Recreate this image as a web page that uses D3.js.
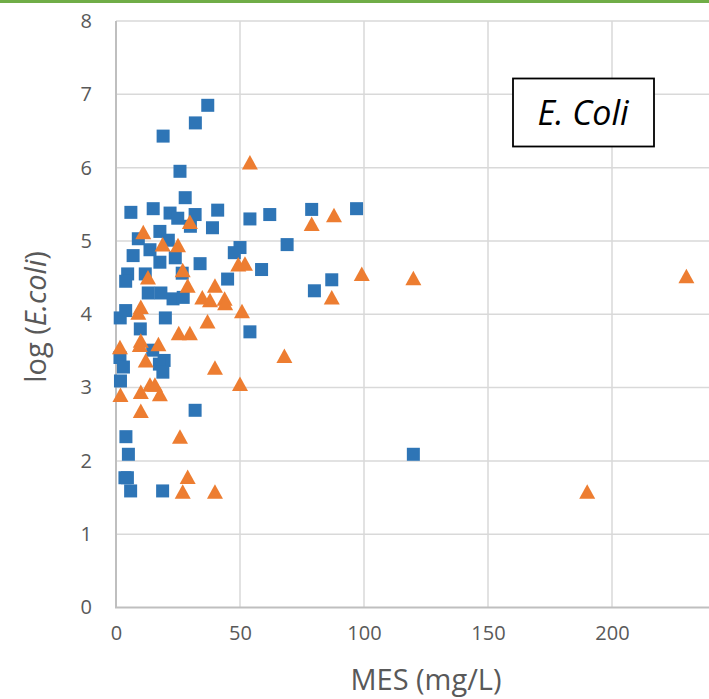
<!DOCTYPE html>
<html>
<head>
<meta charset="utf-8">
<script src="https://cdn.jsdelivr.net/npm/d3@7"></script>
<style>
  body { margin: 0; background: #fff; }
  svg { display: block; font-family: "Open Sans", sans-serif; }
  .tick text { fill: #595959; font-size: 20px; font-family: "Open Sans", sans-serif; }
</style>
</head>
<body>
<div id="chart"></div>
<script>
// MES (mg/L) and log(E.coli)
var squareMES = [37.0, 32.0, 19.0, 25.8, 27.9, 6.0, 15.0, 21.8, 24.9, 31.9, 41.0, 30.0, 38.9, 54.0, 62.0, 78.9, 97.0,
  17.7, 9.0, 21.1, 13.7, 6.9, 17.7, 23.9, 50.0, 47.7, 69.0, 33.9, 58.7,
  4.7, 3.9, 11.8, 26.7, 45.0, 87.0, 80.0, 13.0, 18.1, 23.0, 27.1,
  3.9, 1.7, 19.9, 9.8, 54.0, 14.8, 1.6, 19.4, 17.5, 3.0, 18.9, 1.8,
  31.9, 4.0, 5.0, 3.6, 4.6, 5.9, 18.8, 119.9];
var squareLog = [6.85, 6.61, 6.43, 5.95, 5.59, 5.39, 5.44, 5.38, 5.31, 5.36, 5.42, 5.20, 5.18, 5.30, 5.36, 5.43, 5.44,
  5.13, 5.03, 5.01, 4.88, 4.80, 4.71, 4.77, 4.91, 4.84, 4.95, 4.69, 4.61,
  4.55, 4.45, 4.55, 4.56, 4.48, 4.47, 4.32, 4.29, 4.29, 4.21, 4.23,
  4.05, 3.95, 3.95, 3.80, 3.76, 3.51, 3.41, 3.37, 3.32, 3.28, 3.21, 3.09,
  2.69, 2.33, 2.09, 1.77, 1.77, 1.59, 1.59, 2.09];

var triMES = [54.0, 29.8, 11.0, 18.8, 25.0, 78.9, 87.9,
  49.3, 52.0, 26.9, 12.9, 28.9, 39.9, 34.8, 37.9, 43.8, 44.0, 99.1, 119.9, 230.0, 87.0,
  10.0, 9.0, 50.8, 36.9, 25.3, 29.8, 10.0, 9.6, 1.6, 17.1, 12.0, 67.9, 39.9,
  13.7, 15.7, 50.0, 10.0, 17.7, 1.8, 10.0, 25.8, 28.9, 26.9, 39.9, 190.0];
var triLog = [6.07, 5.26, 5.12, 4.95, 4.94, 5.23, 5.35,
  4.68, 4.69, 4.60, 4.50, 4.39, 4.39, 4.23, 4.19, 4.21, 4.15, 4.55, 4.49, 4.52, 4.23,
  4.10, 4.02, 4.04, 3.90, 3.74, 3.74, 3.64, 3.58, 3.55, 3.59, 3.37, 3.43, 3.27,
  3.04, 3.04, 3.05, 2.94, 2.91, 2.90, 2.68, 2.33, 1.78, 1.58, 1.58, 1.58];

var xTicks = [0, 50, 100, 150, 200, 250];
var yTicks = [0, 1, 2, 3, 4, 5, 6, 7, 8];

var W = 709, H = 699;
var margin = {top: 21, left: 116, bottom: 92};
var blue = "#2e75b6", orange = "#ed7d31";

var svg = d3.select("#chart").append("svg")
    .attr("width", W)
    .attr("height", H);

svg.append("rect")
    .attr("x", 0).attr("y", 0)
    .attr("width", W).attr("height", 3)
    .attr("fill", "#70ad47");

var x = d3.scaleLinear().domain([0, 250]).range([margin.left, margin.left + 620]);
var y = d3.scaleLinear().domain([0, 8]).range([H - margin.bottom + 0.5, margin.top]);

// gridlines
svg.append("g").selectAll("line")
    .data(yTicks.slice(1))
    .enter().append("line")
    .attr("x1", margin.left).attr("x2", W)
    .attr("y1", d => y(d)).attr("y2", d => y(d))
    .attr("stroke", "#d9d9d9").attr("stroke-width", 1.5);

svg.append("g").selectAll("line")
    .data(xTicks.slice(1))
    .enter().append("line")
    .attr("x1", d => x(d)).attr("x2", d => x(d))
    .attr("y1", y(8)).attr("y2", y(0))
    .attr("stroke", "#d9d9d9").attr("stroke-width", 1.5);

// axes
var xAxis = svg.append("g")
    .attr("transform", "translate(0," + y(0) + ")")
    .call(d3.axisBottom(x).tickValues(xTicks.slice(0, 5)).tickSize(0).tickPadding(18));
xAxis.select(".domain").remove();

var yAxis = svg.append("g")
    .attr("transform", "translate(" + x(0) + ",0)")
    .call(d3.axisLeft(y).tickValues(yTicks).tickSize(0).tickPadding(24));
yAxis.select(".domain").remove();

svg.append("line")
    .attr("x1", x(0)).attr("x2", x(0))
    .attr("y1", y(8)).attr("y2", y(0))
    .attr("stroke", "#bfbfbf").attr("stroke-width", 2);
svg.append("line")
    .attr("x1", x(0) - 1).attr("x2", W)
    .attr("y1", y(0)).attr("y2", y(0))
    .attr("stroke", "#bfbfbf").attr("stroke-width", 2);

// squares
var sq = 13;
svg.append("g").selectAll("rect")
    .data(squareMES)
    .enter().append("rect")
    .attr("x", (d, i) => x(d) - sq / 2)
    .attr("y", (d, i) => y(squareLog[i]) - sq / 2)
    .attr("width", sq).attr("height", sq)
    .attr("fill", blue);

// triangles
svg.append("g").selectAll("path")
    .data(triMES)
    .enter().append("path")
    .attr("d", "M0,-7.5L8,7L-8,7Z")
    .attr("transform", (d, i) => "translate(" + x(d) + "," + y(triLog[i]) + ")")
    .attr("fill", orange);

// label box
svg.append("rect")
    .attr("x", 513).attr("y", 78.5)
    .attr("width", 141).attr("height", 68)
    .attr("fill", "#fff")
    .attr("stroke", "#000").attr("stroke-width", 1.8);
svg.append("text")
    .attr("x", 583).attr("y", 125)
    .attr("text-anchor", "middle")
    .style("font-size", "34px").style("font-style", "italic")
    .attr("fill", "#000")
    .text("E. Coli");

// axis titles
svg.append("text")
    .attr("x", 426).attr("y", 690)
    .attr("text-anchor", "middle")
    .style("font-size", "29px")
    .attr("fill", "#595959")
    .text("MES (mg/L)");

var yt = svg.append("text")
    .attr("transform", "translate(46,317) rotate(-90)")
    .attr("text-anchor", "middle")
    .style("font-size", "29px")
    .attr("fill", "#595959");
yt.append("tspan").text("log (");
yt.append("tspan").style("font-style", "italic").text("E.coli");
yt.append("tspan").text(")");
</script>
</body>
</html>
